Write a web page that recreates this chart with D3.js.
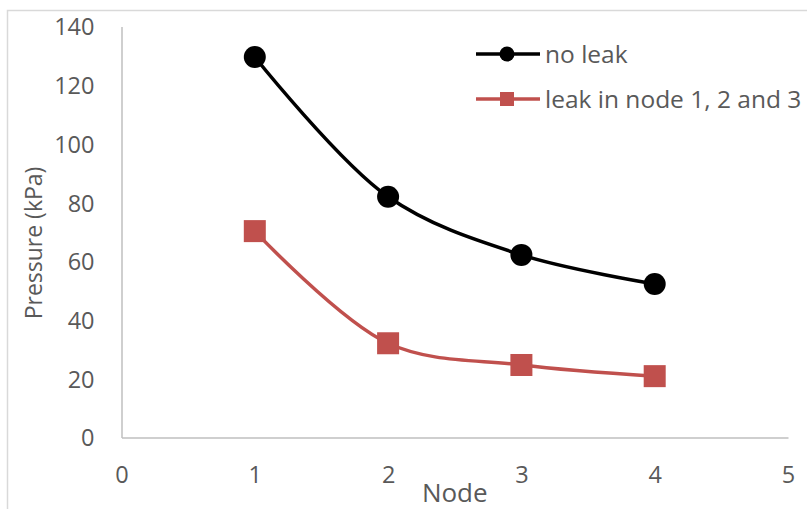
<!DOCTYPE html>
<html>
<head>
<meta charset="utf-8">
<script src="https://cdn.jsdelivr.net/npm/d3@7"></script>
<style>
  html, body { margin: 0; padding: 0; background: #fff; }
  svg { display: block; }
  text { font-family: "Open Sans", "Noto Sans", sans-serif; fill: #595959; }
</style>
</head>
<body>
<svg id="chart" width="807" height="509"></svg>
<script>
// Pressure at each node, with and without leaks
const nodes = [1, 2, 3, 4];
const noLeak = [129.6, 82, 62.2, 52.3];
const leak123 = [70.3, 32.1, 24.7, 20.9];
const seriesNames = ["no leak", "leak in node 1, 2 and 3"];
const xTicks = [0, 1, 2, 3, 4, 5];
const yTicks = [0, 20, 40, 60, 80, 100, 120, 140];

const svg = d3.select("#chart");

// outer frame of the chart area
svg.append("rect")
  .attr("x", 7.5).attr("y", 10.5)
  .attr("width", 820).attr("height", 520)
  .attr("fill", "none").attr("stroke", "#d9d9d9").attr("stroke-width", 1.5);

const x = d3.scaleLinear().domain([0, 5]).range([121.5, 788]);
const y = d3.scaleLinear().domain([0, 140]).range([437.5, 26.5]);

// axes: plain grey lines, no tick marks
const xAxis = svg.append("g").attr("transform", `translate(0,${y(0)})`)
  .call(d3.axisBottom(x).tickValues(xTicks).tickSize(0).tickPadding(0).tickFormat(d3.format("d")));
xAxis.select(".domain").attr("stroke", "#bfbfbf").attr("stroke-width", 1.5);
xAxis.selectAll("text").attr("dy", null).attr("y", 45).attr("font-size", 23.5).attr("fill", "#595959");

const yAxis = svg.append("g").attr("transform", `translate(${x(0)},0)`)
  .call(d3.axisLeft(y).tickValues(yTicks).tickSize(0).tickPadding(0).tickFormat(d3.format("d")));
yAxis.select(".domain").attr("stroke", "#bfbfbf").attr("stroke-width", 1.5);
yAxis.selectAll("text").attr("x", -27).attr("dy", "0.36em").attr("font-size", 23.5).attr("fill", "#595959");

// axis titles
svg.append("text")
  .attr("x", (x(0) + x(5)) / 2).attr("y", 502)
  .attr("text-anchor", "middle").attr("font-size", 26)
  .text("Node");
svg.append("text")
  .attr("transform", `translate(42,${(y(0) + y(140)) / 2 + 11}) rotate(-90)`)
  .attr("text-anchor", "middle").attr("font-size", 23)
  .text("Pressure (kPa)");

const line = d3.line()
  .x((d, i) => x(nodes[i]))
  .y(d => y(d))
  .curve(d3.curveCatmullRom.alpha(0.5));

const black = "#000000";
const red = "#c0504d";

// no leak series
svg.append("path").datum(noLeak)
  .attr("d", line).attr("fill", "none")
  .attr("stroke", black).attr("stroke-width", 3.5).attr("stroke-linejoin", "round");
svg.selectAll(".pt-noleak").data(noLeak).join("circle")
  .attr("class", "pt-noleak")
  .attr("cx", (d, i) => x(nodes[i])).attr("cy", d => y(d))
  .attr("r", 11).attr("fill", black);

// leak series
svg.append("path").datum(leak123)
  .attr("d", line).attr("fill", "none")
  .attr("stroke", red).attr("stroke-width", 3.5).attr("stroke-linejoin", "round");
const sq = 22;
svg.selectAll(".pt-leak").data(leak123).join("rect")
  .attr("class", "pt-leak")
  .attr("x", (d, i) => x(nodes[i]) - sq / 2).attr("y", d => y(d) - sq / 2)
  .attr("width", sq).attr("height", sq).attr("fill", red);

// legend
const legend = svg.append("g");
const rows = [
  { name: seriesNames[0], color: black, shape: "circle", cy: 54 },
  { name: seriesNames[1], color: red, shape: "square", cy: 99 }
];
rows.forEach(r => {
  legend.append("line")
    .attr("x1", 476).attr("x2", 540).attr("y1", r.cy).attr("y2", r.cy)
    .attr("stroke", r.color).attr("stroke-width", 3.5);
  if (r.shape === "circle") {
    legend.append("circle").attr("cx", 507).attr("cy", r.cy).attr("r", 7.5).attr("fill", r.color);
  } else {
    legend.append("rect").attr("x", 500).attr("y", r.cy - 7).attr("width", 14).attr("height", 14).attr("fill", r.color);
  }
  legend.append("text")
    .attr("x", 545).attr("y", r.cy).attr("dy", "0.36em")
    .attr("font-size", 24.5).text(r.name);
});
</script>
</body>
</html>
